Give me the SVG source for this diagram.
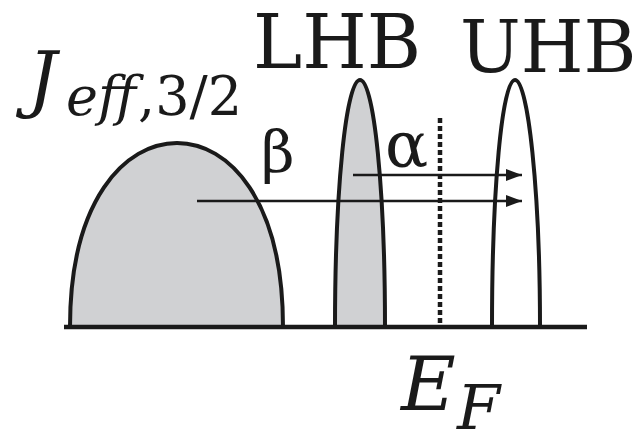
<svg xmlns="http://www.w3.org/2000/svg" width="637" height="431" viewBox="0 0 637 431">
<style>
.band{stroke:#1a1a1a;stroke-width:4;stroke-linejoin:round}
.filled{fill:#d0d1d3}
.empty{fill:#ffffff}
.conn{stroke:#1a1a1a;stroke-width:2.5;fill:none}
</style>
<defs>
<marker id="ah" viewBox="0 0 16 12" refX="16" refY="6" markerWidth="16" markerHeight="12" markerUnits="userSpaceOnUse" orient="auto">
<path d="M0,0 L16,6 L0,12 Z" fill="#1a1a1a"/>
</marker>
</defs>
<g id="jeff">
<path class="band filled" d="M70,327 C70,200 125,143 177,143 C229,143 283,200 283,327"/>
<text x="28" y="104" font-family="DejaVu Serif" font-style="italic" font-size="72" fill="#1a1a1a">J</text>
<text x="66" y="115" font-family="DejaVu Serif" font-style="italic" font-size="54" fill="#1a1a1a">eff</text>
<text x="138" y="115" font-family="DejaVu Serif" font-size="54" fill="#1a1a1a">,3/2</text>
</g>
<g id="lhb">
<path class="band filled" d="M335,327 C335,190 346,80 360,80 C374,80 385,190 385,327"/>
<text x="253" y="68" font-family="DejaVu Serif" font-size="74" fill="#1a1a1a">LHB</text>
</g>
<g id="uhb">
<path class="band empty" d="M492,327 C492,190 502,80 515,80 C528,80 540,190 540,327"/>
<text x="460" y="72" font-family="DejaVu Serif" font-size="72" fill="#1a1a1a">UHB</text>
</g>
<g id="ef">
<line x1="440" y1="118" x2="440" y2="327" stroke="#1a1a1a" stroke-width="4.5" stroke-dasharray="5 3"/>
<text x="401" y="410" font-family="DejaVu Serif" font-style="italic" font-size="75" fill="#1a1a1a">E</text>
<text x="457" y="429" font-family="DejaVu Serif" font-style="italic" font-size="62" fill="#1a1a1a">F</text>
</g>
<g id="axis">
<line x1="64" y1="327" x2="587" y2="327" stroke="#1a1a1a" stroke-width="4.5"/>
</g>
<g id="connectors">
<line class="conn" x1="197" y1="201" x2="522" y2="201" marker-end="url(#ah)"/>
<line class="conn" x1="353" y1="175" x2="522" y2="175" marker-end="url(#ah)"/>
<text x="261" y="172" font-family="DejaVu Serif" font-size="58" fill="#1a1a1a">β</text>
<text x="385" y="167" font-family="DejaVu Serif" font-size="64" fill="#1a1a1a">α</text>
</g>
</svg>
